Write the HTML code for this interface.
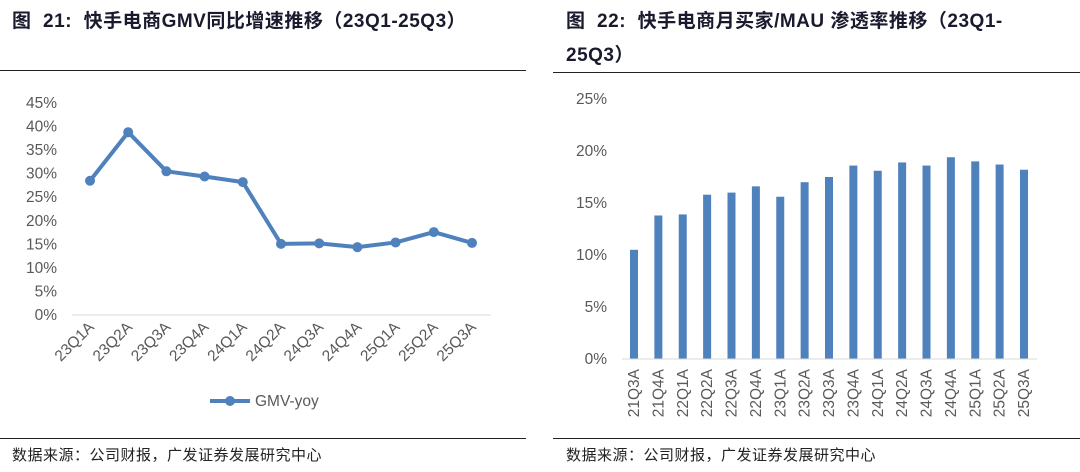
<!DOCTYPE html>
<html><head><meta charset="utf-8"><style>
body{margin:0;width:1080px;height:472px;background:#fff;overflow:hidden;font-family:"Liberation Sans","Noto Sans CJK SC",sans-serif}
.t{position:absolute;font-weight:bold;font-size:19px;color:#1a1a2e;line-height:34px;letter-spacing:0.5px}
.s{position:absolute;font-size:15px;color:#222;top:444px;letter-spacing:0.5px}
.hl{position:absolute;height:1px;background:#222}
</style></head><body>
<div class="t" style="left:12px;top:5px">图&nbsp; 21:&nbsp; 快手电商GMV同比增速推移（23Q1-25Q3）</div>
<div class="hl" style="left:0;width:526px;top:70px"></div>
<div class="t" style="left:566px;top:5px;width:500px">图&nbsp; 22:&nbsp; 快手电商月买家/MAU 渗透率推移（23Q1-<br>25Q3）</div>
<div class="hl" style="left:553px;width:527px;top:72px"></div>
<div class="hl" style="left:0;width:526px;top:438px"></div>
<div class="hl" style="left:553px;width:527px;top:438px"></div>
<div class="s" style="left:12px">数据来源：公司财报，广发证券发展研究中心</div>
<div class="s" style="left:566px">数据来源：公司财报，广发证券发展研究中心</div>
<svg id="c" width="1080" height="472" style="position:absolute;left:0;top:0" font-family="Liberation Sans, sans-serif"></svg>
<script>
const lineCats=['23Q1A','23Q2A','23Q3A','23Q4A','24Q1A','24Q2A','24Q3A','24Q4A','25Q1A','25Q2A','25Q3A'];
const lineVals=[28.5,38.8,30.5,29.4,28.2,15.1,15.2,14.4,15.4,17.6,15.3];
const lineTicks=[0,5,10,15,20,25,30,35,40,45];
const barCats=['21Q3A','21Q4A','22Q1A','22Q2A','22Q3A','22Q4A','23Q1A','23Q2A','23Q3A','23Q4A','24Q1A','24Q2A','24Q3A','24Q4A','25Q1A','25Q2A','25Q3A'];
const barVals=[10.5,13.8,13.9,15.8,16,16.6,15.6,17,17.5,18.6,18.1,18.9,18.6,19.4,19,18.7,18.2];
const barTicks=[0,5,10,15,20,25];
const svg=document.getElementById('c');const NS='http://www.w3.org/2000/svg';
function mk(t,a,txt){const e=document.createElementNS(NS,t);for(const k in a)e.setAttribute(k,a[k]);if(txt!==undefined)e.textContent=txt;svg.appendChild(e);return e;}
const ly=v=>315-v*(212/45), lx=i=>90+i*38.2;
lineTicks.forEach(v=>{const e=mk('text',{x:57,y:ly(v)+5,'text-anchor':'end','font-size':15.5,fill:'#595959'},v+'%');

});
let ax=mk('line',{x1:72,x2:491,y1:315,y2:315,stroke:'#d9d9d9','stroke-width':1});


lineCats.forEach((c,i)=>{const e=mk('text',{x:lx(i)+5,y:328,'text-anchor':'end','font-size':15.5,fill:'#595959',transform:`rotate(-45 ${lx(i)+5} 328)`},c);

});
const pl=mk('polyline',{points:lineVals.map((v,i)=>lx(i)+','+ly(v)).join(' '),fill:'none',stroke:'#4f81bd','stroke-width':4,'stroke-linejoin':'round'});


lineVals.forEach((v,i)=>{const e=mk('circle',{cx:lx(i),cy:ly(v),r:5,fill:'#4f81bd'});

});
let lg=mk('line',{x1:210,x2:250,y1:401,y2:401,stroke:'#4f81bd','stroke-width':4});


let lc=mk('circle',{cx:230,cy:401,r:5,fill:'#4f81bd'});


let lt=mk('text',{x:255,y:406,'font-size':15.5,fill:'#595959'},'GMV-yoy');


const by=v=>359-v*(260/25), bx=i=>634+i*(390/16);
barTicks.forEach(v=>{const e=mk('text',{x:607,y:by(v)+5,'text-anchor':'end','font-size':15.5,fill:'#595959'},v+'%');

});
barVals.forEach((v,i)=>{const e=mk('rect',{x:bx(i)-4,y:by(v),width:8,height:359-by(v),fill:'#4f81bd'});

});
let ax2=mk('line',{x1:622,x2:1037,y1:359,y2:359,stroke:'#d9d9d9','stroke-width':1});


barCats.forEach((c,i)=>{const e=mk('text',{x:bx(i)+5,y:369,'text-anchor':'end','font-size':15.5,fill:'#595959',transform:`rotate(-90 ${bx(i)+5} 369)`},c);

});
</script>
</body></html>
